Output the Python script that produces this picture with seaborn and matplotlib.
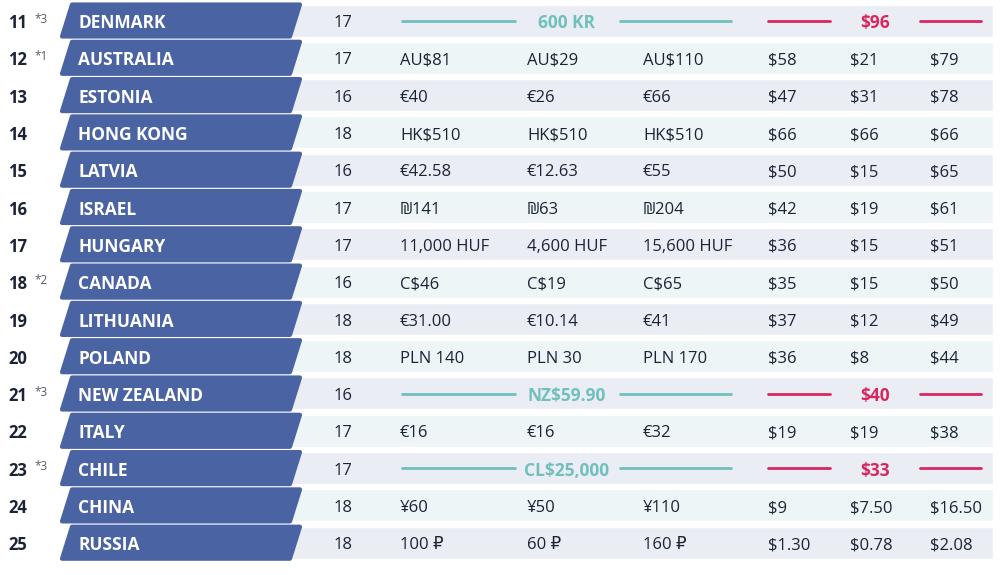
import numpy as np
import pandas as pd
import seaborn as sns
import matplotlib.pyplot as plt
from matplotlib.patches import Polygon

# table data
ranks = [11, 12, 13, 14, 15, 16, 17, 18, 19, 20, 21, 22, 23, 24, 25]
notes = ["*3", "*1", "", "", "", "", "", "*2", "", "", "*3", "", "*3", "", ""]
countries = ["DENMARK", "AUSTRALIA", "ESTONIA", "HONG KONG", "LATVIA", "ISRAEL",
             "HUNGARY", "CANADA", "LITHUANIA", "POLAND", "NEW ZEALAND", "ITALY",
             "CHILE", "CHINA", "RUSSIA"]
ages = [17, 17, 16, 18, 16, 17, 17, 16, 18, 18, 16, 17, 17, 18, 18]
local_a = ["", "AU$81", "€40", "HK$510", "€42.58", "₪141", "11,000 HUF", "C$46",
           "€31.00", "PLN 140", "", "€16", "", "¥60", "100 ₽"]
local_b = ["", "AU$29", "€26", "HK$510", "€12.63", "₪63", "4,600 HUF", "C$19",
           "€10.14", "PLN 30", "", "€16", "", "¥50", "60 ₽"]
local_total = ["", "AU$110", "€66", "HK$510", "€55", "₪204", "15,600 HUF", "C$65",
               "€41", "PLN 170", "", "€32", "", "¥110", "160 ₽"]
usd_a = ["", "$58", "$47", "$66", "$50", "$42", "$36", "$35", "$37", "$36", "", "$19", "", "$9", "$1.30"]
usd_b = ["", "$21", "$31", "$66", "$15", "$19", "$15", "$15", "$12", "$8", "", "$19", "", "$7.50", "$0.78"]
usd_total = ["", "$79", "$78", "$66", "$65", "$61", "$51", "$50", "$49", "$44", "", "$38", "", "$16.50", "$2.08"]
# rows with a single combined price
merged_local = {0: "600 KR", 10: "NZ$59.90", 12: "CL$25,000"}
merged_usd = {0: "$96", 10: "$40", 12: "$33"}

df = pd.DataFrame({"row": np.arange(len(ranks)), "rank": ranks, "country": countries})

sns.set_theme(style="white")
plt.rcParams["font.family"] = ["Open Sans", "DejaVu Sans"]

banner_col = "#4a63a3"
text_col = "#1b2335"
teal = "#70c0bd"
pink = "#d6285f"
bg_odd = "#ebedf4"
bg_even = "#eef5f6"

fig = plt.figure(figsize=(10, 5.75), dpi=100)
ax = fig.add_axes([0, 0, 1, 1])
pitch = 37.3
ax.set_xlim(0, 1000)
ax.set_ylim((575 - 20.5) / pitch, -20.5 / pitch)
ax.axis("off")

h = 32 / pitch
bg = [bg_odd if r % 2 == 0 else bg_even for r in df["row"]]
ax.barh(df["row"], 703, left=290, height=h, color=bg, zorder=1)

cols = [400, 527, 643, 768, 850, 930]
slant = 10
dy = 0.07  # nudge text down to the optical centre
for r, row in df.iterrows():
    y = row["row"]
    ty = y + dy
    top, bot = y - h / 2, y + h / 2
    poly = Polygon([(62, bot), (62 + slant, top), (300, top), (300 - slant, bot)],
                   closed=True, facecolor=banner_col, edgecolor=banner_col,
                   linewidth=3, joinstyle="round", zorder=2)
    ax.add_patch(poly)
    ax.text(8, ty, str(row["rank"]), fontsize=12, fontweight="bold", color=text_col,
            va="center", ha="left", zorder=3)
    if notes[r]:
        ax.text(34, ty - 0.1, notes[r], fontsize=8.5, color="#555b66",
                va="center", ha="left", zorder=3)
    ax.text(78, ty, row["country"], fontsize=12.5, fontweight="bold", color="white",
            va="center", ha="left", zorder=3)
    ax.text(343, ty, str(ages[r]), fontsize=12, color=text_col, va="center", ha="center", zorder=3)

    if r in merged_local:
        ax.plot([402, 515], [y, y], color=teal, lw=2, zorder=3)
        ax.plot([620, 731], [y, y], color=teal, lw=2, zorder=3)
        ax.text(567, ty, merged_local[r], fontsize=12.5, fontweight="bold", color=teal,
                va="center", ha="center", zorder=3)
        ax.plot([768, 830], [y, y], color=pink, lw=2, zorder=3)
        ax.plot([920, 981], [y, y], color=pink, lw=2, zorder=3)
        ax.text(875, ty, merged_usd[r], fontsize=12.5, fontweight="bold", color=pink,
                va="center", ha="center", zorder=3)
    else:
        vals = [local_a[r], local_b[r], local_total[r], usd_a[r], usd_b[r], usd_total[r]]
        for x, v in zip(cols, vals):
            ax.text(x, ty, v, fontsize=12, color=text_col, va="center", ha="left", zorder=3)

fig.savefig("out.png", dpi=100, facecolor="white")
